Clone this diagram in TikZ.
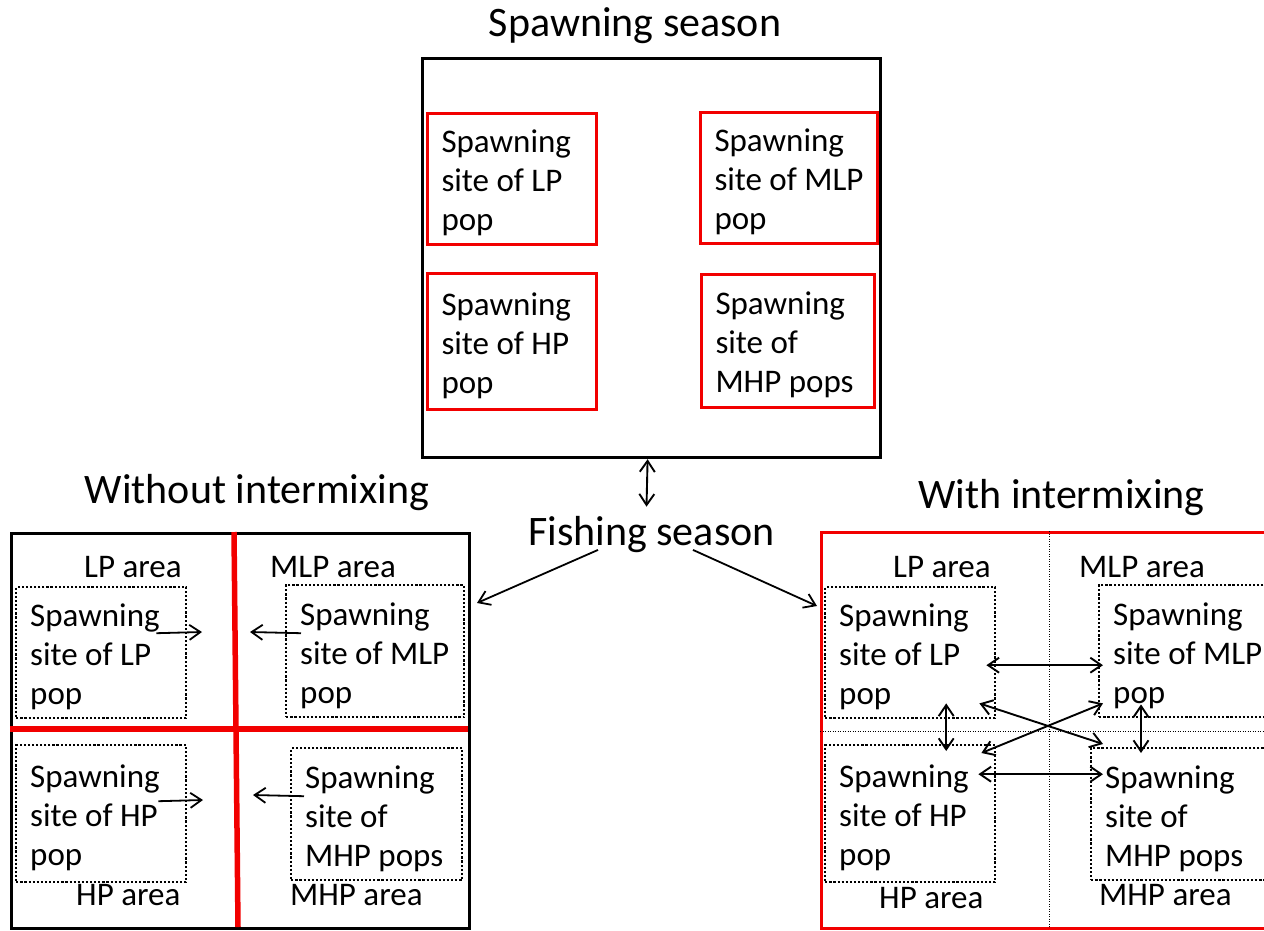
\documentclass[tikz,border=0pt]{standalone}
\usepackage{fontspec}
\setmainfont{Carlito}
\usetikzlibrary{arrows.meta,calc}
\definecolor{sitered}{HTML}{F20000}

\begin{document}
\begin{tikzpicture}[x=1pt, y=-1pt, >={Straight Barb[length=11pt,width=15pt]}, font=\fontsize{33}{39}\selectfont]
  \tikzstyle{title}=[font=\fontsize{42}{50}\selectfont, anchor=base, inner sep=0pt]
  \tikzstyle{lbl}=[anchor=base west, inner sep=0pt]
  \tikzstyle{frame}=[draw, line width=3.2pt, anchor=north west, inner sep=0pt]
  \tikzstyle{site}=[anchor=north west, align=flush left, inner xsep=14pt, inner ysep=0pt, execute at begin node=\rule{0pt}{31pt}]
  \tikzstyle{redsite}=[site, draw=sitered, line width=3pt]
  \tikzstyle{dotsite}=[site, draw, line width=2.4pt, dash pattern=on 2.2pt off 1.9pt]
  \tikzstyle{sep}=[line width=1pt, dash pattern=on 1pt off 1.5pt]
  \tikzstyle{arr}=[->, line width=1.8pt]
  \tikzstyle{dbl}=[<->, line width=1.9pt]

  \useasboundingbox (0,0) rectangle (1264,930);
  \clip (0,0) rectangle (1264,930);

  % spawning season
  \node[title] (spawntitle) at (635,36) {Spawning season};
  \node[frame, minimum width=458, minimum height=399] (spawn) at (421,57) {};
  \node[redsite, minimum width=169, minimum height=131, text width=141] (spLP) at (426,112) {Spawning\\site~of~LP\\pop};
  \node[redsite, minimum width=177, minimum height=131, text width=149] (spMLP) at (699,111) {Spawning\\site~of~MLP\\pop};
  \node[redsite, minimum width=169, minimum height=136, text width=141] (spHP) at (426,272) {Spawning\\site~of~HP\\pop};
  \node[redsite, minimum width=173, minimum height=133, text width=145] (spMHP) at (700,273) {Spawning\\site~of\\MHP~pops};

  \node[title] (fish) at (651.5,545) {Fishing season};
  \draw[dbl] ([shift={(-4,0)}]spawn.south) -- ([shift={(-5,-9)}]fish.north);

  % without intermixing
  \node[title] (withouttitle) at (257,503) {Without intermixing};
  \node[frame, minimum width=458, minimum height=395] (without) at (10,532) {};
  \draw[sitered, line width=5.5pt] (234,532) -- (238,927);
  \draw[sitered, line width=5.5pt] (10,729) -- (468,729);
  \node[lbl] (lpLarea) at (84,577) {LP area};
  \node[lbl] (mlpLarea) at (270,577) {MLP area};
  \node[lbl] (hpLarea) at (76,905) {HP area};
  \node[lbl] (mhpLarea) at (290,905) {MHP area};
  \node[dotsite, minimum width=170, minimum height=131, text width=142] (lpL) at (15,586) {Spawning\\site~of~LP\\pop};
  \node[dotsite, minimum width=178, minimum height=132, text width=150] (mlpL) at (285,584) {Spawning\\site~of~MLP\\pop};
  \node[dotsite, minimum width=170, minimum height=137, text width=142] (hpL) at (15,744) {Spawning\\site~of~HP\\pop};
  \node[dotsite, minimum width=171, minimum height=132, text width=143] (mhpL) at (290,747) {Spawning\\site~of\\MHP~pops};
  \coordinate (lpLtip) at (202,632);
  \coordinate (mlpLtip) at (250,632);
  \coordinate (hpLtip) at (203,800);
  \coordinate (mhpLtip) at (253,795);
  \draw[arr] ([shift={(-31,-19.5)}]lpL.east) -- (lpLtip);
  \draw[arr] ([shift={(16,-18)}]mlpL.west) -- (mlpLtip);
  \draw[arr] ([shift={(-29,-12.5)}]hpL.east) -- (hpLtip);
  \draw[arr] ([shift={(14,-18)}]mhpL.west) -- (mhpLtip);

  % with intermixing
  \node[title] (withtitle) at (1061.5,508) {With intermixing};
  \node[frame, draw=sitered, minimum width=460, minimum height=396] (with) at (820,531) {};
  \draw[sep] (1049,531) -- (1049,927);
  \draw[sep] (820,731) -- (1264,731);
  \node[lbl] (lpRarea) at (893,577) {LP area};
  \node[lbl] (mlpRarea) at (1079,577) {MLP area};
  \node[lbl] (hpRarea) at (879,908) {HP area};
  \node[lbl] (mhpRarea) at (1099,905) {MHP area};
  \node[dotsite, minimum width=170, minimum height=131, text width=142] (lpR) at (824,586) {Spawning\\site~of~LP\\pop};
  \node[dotsite, minimum width=178, minimum height=132, text width=150] (mlpR) at (1098,584) {Spawning\\site~of~MLP\\pop};
  \node[dotsite, minimum width=170, minimum height=137, text width=142] (hpR) at (824,744) {Spawning\\site~of~HP\\pop};
  \node[dotsite, minimum width=178, minimum height=132, text width=150] (mhpR) at (1090,747) {Spawning\\site~of\\MHP~pops};
  \draw[dbl] ([shift={(-10,12.5)}]lpR.east) -- ([shift={(5,14)}]mlpR.west);
  \draw[dbl] ([shift={(36,-16)}]lpR.south) -- ([shift={(36,7)}]hpR.north);
  \draw[dbl] ([shift={(43,-14)}]mlpR.south west) -- ([shift={(51,6)}]mhpR.north west);
  \draw[dbl] ([shift={(-18,-39.5)}]hpR.east) -- ([shift={(13,-40)}]mhpR.west);
  \draw[dbl] ([shift={(-17,-16)}]lpR.south east) -- ([shift={(13,-3)}]mhpR.north west);
  \draw[dbl] ([shift={(-15,9)}]hpR.north east) -- ([shift={(5,-15)}]mlpR.south west);

  % fishing season links
  \coordinate (withoutin) at (477,603);
  \coordinate (within) at (817,606);
  \draw[arr] ([shift={(-53.5,-2.5)}]fish.south) -- (withoutin);
  \draw[arr] ([shift={(41.5,-2.5)}]fish.south) -- (within);
\end{tikzpicture}
\end{document}
